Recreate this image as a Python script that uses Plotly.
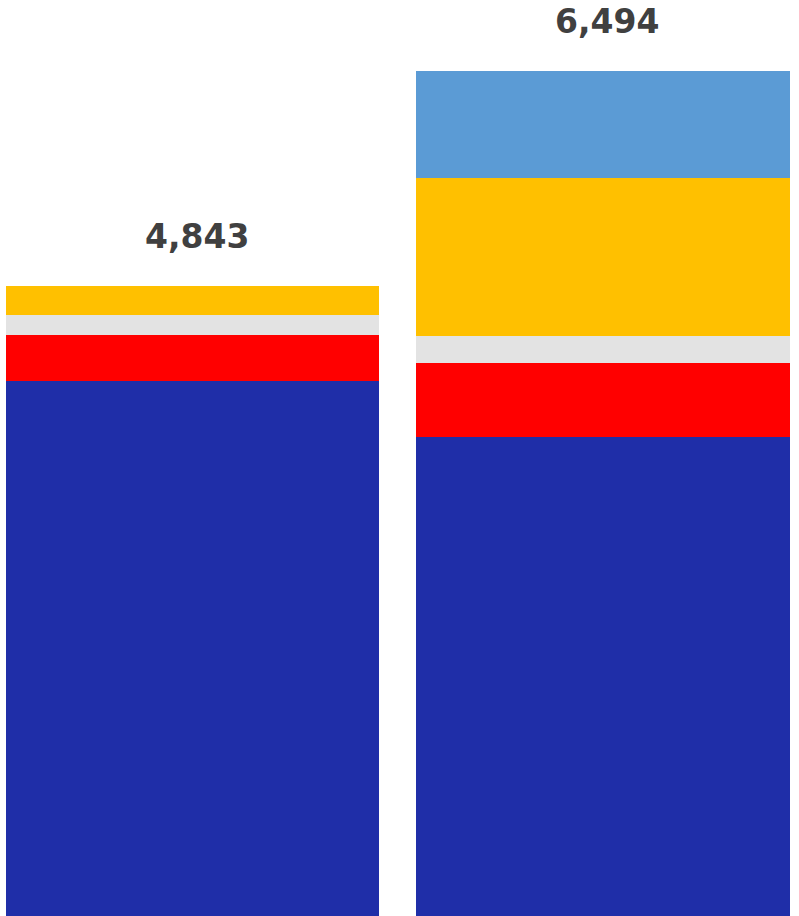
import plotly.graph_objects as go

# Two stacked columns, five components each (bottom to top)
categories = ["A", "B"]
seg_navy = [4112, 3677]
seg_red = [348, 573]
seg_gray = [160, 207]
seg_gold = [223, 1211]
seg_sky = [0, 826]
totals = [4843, 6494]

series = [
    (seg_navy, "#1F2EA8"),
    (seg_red, "#FF0000"),
    (seg_gray, "#E3E3E3"),
    (seg_gold, "#FFC000"),
    (seg_sky, "#5B9BD5"),
]

x_pos = [0, 1]

fig = go.Figure()
for vals, color in series:
    fig.add_trace(go.Bar(
        x=x_pos, y=vals, width=0.91,
        marker=dict(color=color, line=dict(width=0)),
        showlegend=False, hoverinfo="skip",
    ))

# Total labels above each column
for xp, tot in zip(x_pos, totals):
    fig.add_annotation(
        x=xp, y=tot, xref="x", yref="y",
        text=f"{tot:,}", showarrow=False,
        yanchor="bottom", xanchor="center", yshift=28, xshift=4,
        font=dict(family="DejaVu Sans", size=33, color="#404040", weight="bold"),
    )

fig.update_layout(
    barmode="stack",
    width=799, height=916,
    margin=dict(l=0, r=0, t=0, b=0),
    paper_bgcolor="white", plot_bgcolor="white",
    xaxis=dict(visible=False, range=[-0.469, 1.4775]),
    yaxis=dict(visible=False, range=[0, 7036]),
)

fig.write_html("out.html")
